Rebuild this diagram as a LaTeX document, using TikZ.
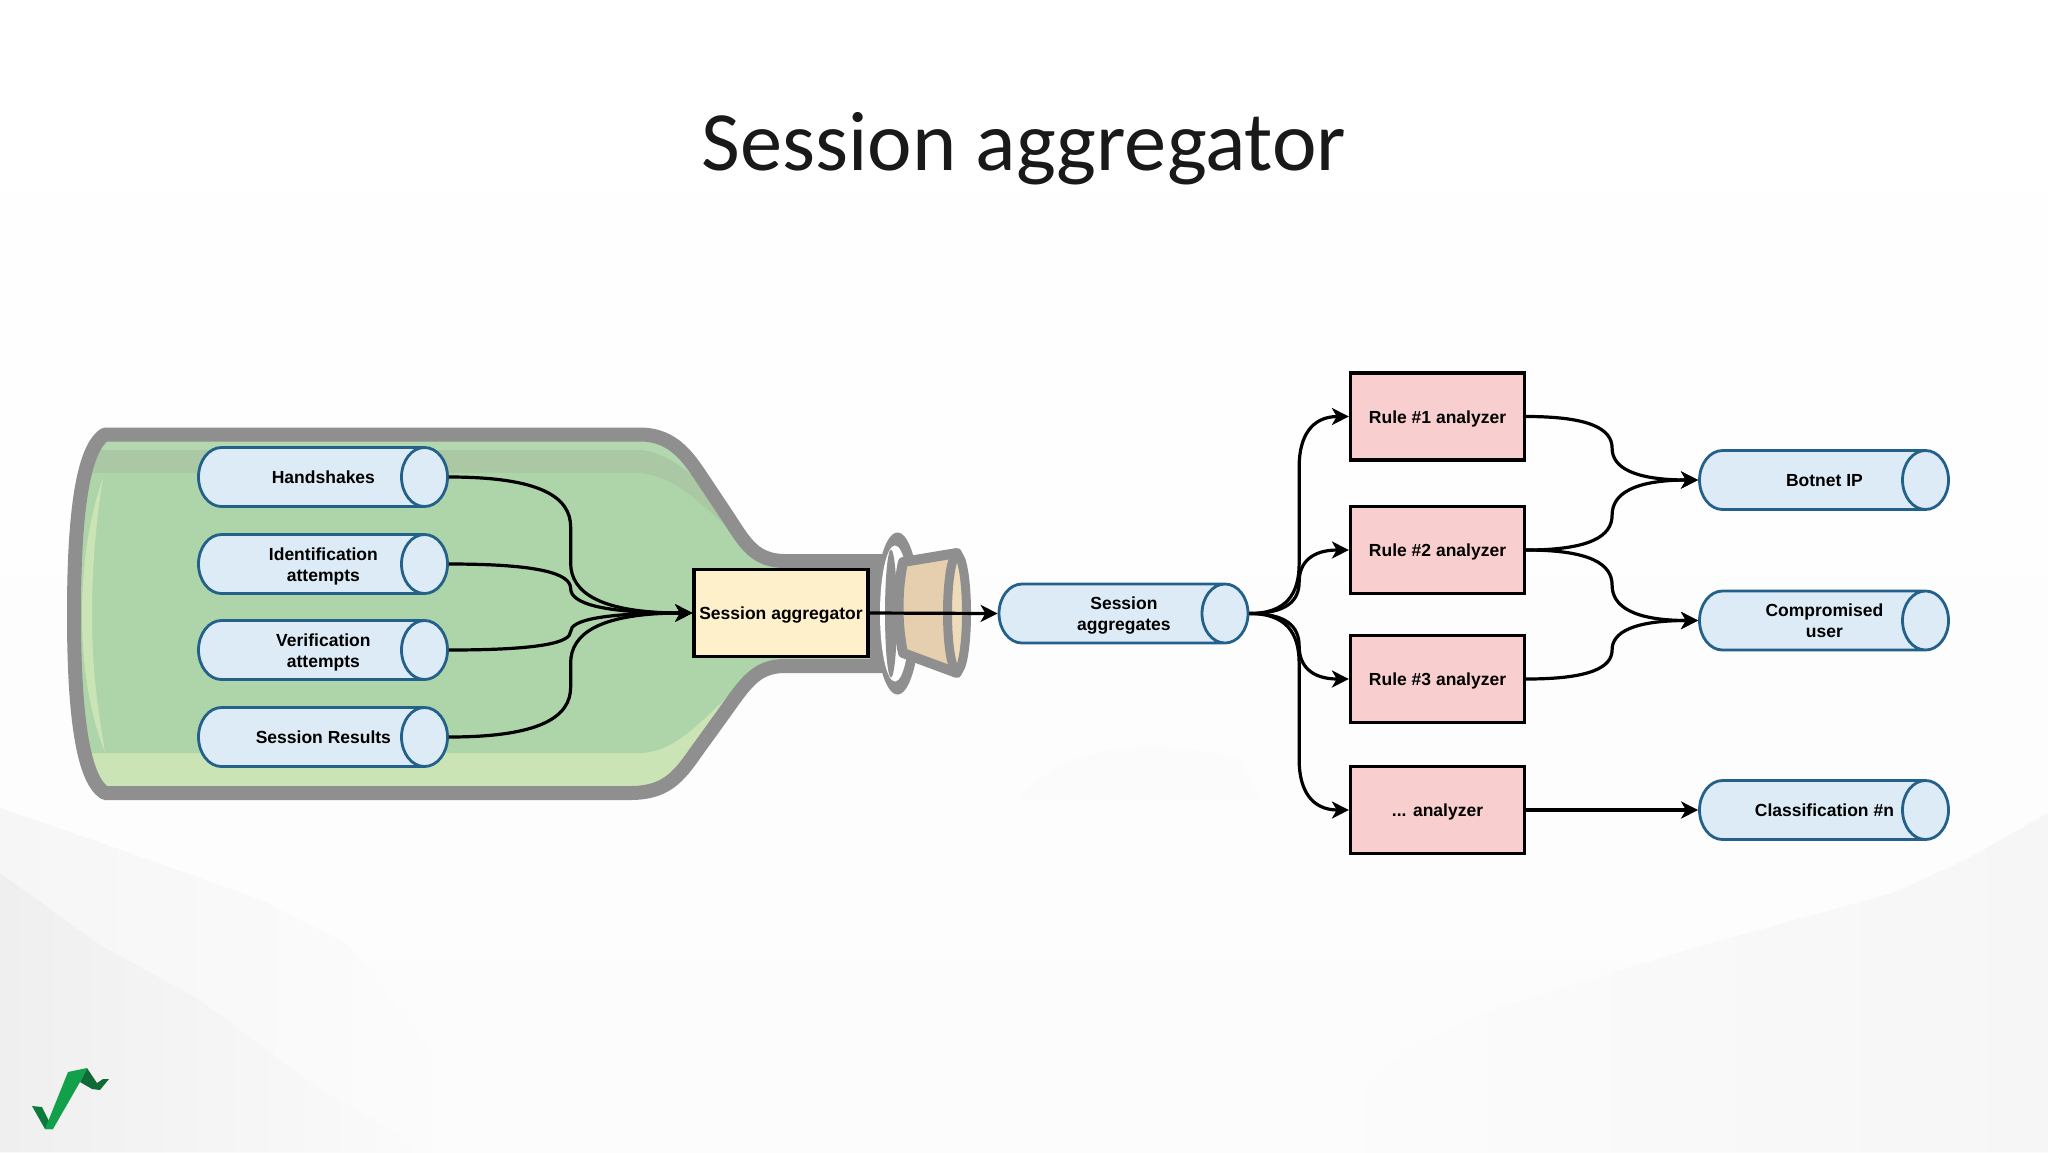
\documentclass[tikz,border=0pt]{standalone}
\usepackage{fontspec}
\setmainfont{Carlito}
\setsansfont{Liberation Sans}
\usetikzlibrary{arrows.meta,calc,shapes.geometric}

\definecolor{bottlegrey}{HTML}{8F8F8F}
\definecolor{bottlelight}{HTML}{CBE4B5}
\definecolor{bottleedge}{HTML}{B3D7AE}
\definecolor{bottleband}{HTML}{A9C8A3}
\definecolor{bottlemain}{HTML}{AED4A9}
\definecolor{corkfill}{HTML}{E5CFAE}
\definecolor{corklight}{HTML}{EDDBB9}
\definecolor{streamfill}{HTML}{DCEBF5}
\definecolor{streamline}{HTML}{23608A}
\definecolor{rulefill}{HTML}{F9CECE}
\definecolor{aggfill}{HTML}{FFF0CC}
\definecolor{backlow}{HTML}{FCFCFD}
\definecolor{hillpale}{HTML}{FBFBFB}
\definecolor{hillmid}{HTML}{F6F6F7}
\definecolor{hilldark}{HTML}{EFEFF0}
\definecolor{logolight}{HTML}{12A04A}
\definecolor{logodark}{HTML}{0B7A3A}
\definecolor{logotail}{HTML}{0E6B36}

\newcommand{\streamtext}[1]{\smash{\kern6.3pt\raisebox{-3.6pt}{\makebox[0pt]{\begin{tabular}{@{}c@{}}#1\end{tabular}}}\kern-6.3pt}}

\tikzset{
  nodetext/.style={font=\sffamily\bfseries\fontsize{8.75}{10.5}\selectfont, align=center},
  stream/.style={nodetext, cylinder, shape border rotate=0, aspect=2.875, draw=streamline,
    fill=streamfill, line width=1.4pt, minimum height=124.5pt, minimum width=29.5pt,
    inner sep=0pt, text height=4pt, text depth=4pt, anchor=shape center},
  box/.style={nodetext, draw=black, line width=1.6pt, inner sep=0pt, text height=6.5pt, text depth=0pt,
    minimum width=87pt, minimum height=43.5pt},
  flow/.style={line width=1.6pt, ->, >={Stealth[length=8.5pt,width=8.5pt,inset=2.4pt]}},
  curvedflow/.style={flow, to path={
    let \p1=(\tikztostart), \p2=(\tikztotarget),
        \n1={0.5*(\x1+\x2)}, \n2={sign(\y2-\y1)*min(abs(\y2-\y1)/2,25)} in
    .. controls ({\x1+0.75*(\n1-\x1)},\y1) and (\n1,{\y1+0.4*\n2}) .. (\n1,{\y1+\n2})
    -- (\n1,{\y2-\n2})
    .. controls (\n1,{\y2-0.4*\n2}) and ({\x2-0.75*(\x2-\n1)},\y2) .. (\tikztotarget)}},
  bottle/.style={insert path={
    (74,614) .. controls (74,530) and (80,450) .. (105,434.5) -- (640,434.5)
    .. controls (675,434.5) and (690,460) .. (704,481) -- (730,520)
    .. controls (745,543) and (755,561) .. (785,561) -- (885,561) -- (885,666) -- (785,666)
    .. controls (755,666) and (745,684) .. (722,716) -- (696,752)
    .. controls (678,778) and (665,793) .. (630,793) -- (105,793)
    .. controls (80,778) and (74,698) .. (74,614) -- cycle}},
}

\begin{document}
\begin{tikzpicture}[x=0.5pt, y=-0.5pt]
  \useasboundingbox (0, 0) rectangle (2048, 1152);

  % backdrop
  \shade [top color=white, bottom color=backlow] (0, 0) rectangle (2048, 1152);
  \shade [left color=hillmid, right color=backlow] (0, 808) -- (130, 853) -- (261, 900) -- (346, 943) -- (431, 1050)
    -- (470, 1152) -- (0, 1152) -- cycle;
  \shade [left color=hilldark, right color=hillpale] (0, 873) -- (100, 945) -- (200, 1000)
    -- (320, 1090) -- (430, 1152) -- (0, 1152) -- cycle;
  \shade [left color=backlow, right color=hillmid] (2048, 813) -- (1965, 860) -- (1893, 893) -- (1697, 947) -- (1481, 1013)
    -- (1390, 1063) -- (1300, 1152) -- (2048, 1152) -- cycle;
  \fill [hillpale] (1020, 800) .. controls (1060, 745) and (1150, 735) .. (1240, 760)
    -- (1260, 800) -- cycle;

  % bottle
  \begin{scope}
    \clip [bottle];
    \fill [bottlelight] (0, 400) rectangle (900, 820);
    \fill [bottleedge] (0, 400) -- (900, 400) -- (900, 600) -- (770, 560)
      .. controls (720, 520) and (700, 470) .. (640, 470) -- (0, 470) -- cycle;
    \fill [bottleband] (90, 450) -- (640, 450) .. controls (690, 455) and (720, 510) .. (775, 563)
      -- (640, 500) -- (90, 473) -- cycle;
    \fill [bottlemain] (60, 473) -- (640, 473) .. controls (690, 478) and (720, 530) .. (775, 566)
      -- (900, 566) -- (900, 660) -- (775, 660) .. controls (730, 680) and (690, 753) .. (640, 753)
      -- (90, 753) -- (60, 720) -- cycle;
    \fill [bottlelight] (103, 478) .. controls (88, 520) and (82, 570) .. (82, 614)
      .. controls (82, 660) and (88, 710) .. (105, 752)
      .. controls (96, 700) and (92, 660) .. (92, 614)
      .. controls (92, 570) and (96, 520) .. (103, 478) -- cycle;
  \end{scope}
  \draw [bottlegrey, line width=7pt, line join=round] [bottle];
  \fill [bottlegrey] (870, 557) rectangle (890, 670);

  % neck ring and cork
  \fill [bottlegrey] (897.5, 613.5) ellipse [x radius=22.5, y radius=81];
  \fill [white] (895, 613.5) ellipse [x radius=15, y radius=68];
  \fill [bottlegrey] (891, 613.5) ellipse [x radius=6, y radius=64];
  \draw [bottlegrey, fill=corkfill, line width=5pt, line join=round] (903, 562) -- (957, 553)
    .. controls (964, 580) and (964, 646) .. (957, 673) -- (903, 653)
    .. controls (897, 625) and (897, 590) .. (903, 562) -- cycle;
  \draw [bottlegrey, fill=corklight, line width=4.5pt] (957, 613) ellipse [x radius=9.5, y radius=58];

  % sources
  \node [stream] (handshakes) at (323, 477) {\streamtext{Handshakes}};
  \node [stream] (identification) at (323, 564) {\streamtext{Identification\\attempts}};
  \node [stream] (verification) at (323, 650) {\streamtext{Verification\\attempts}};
  \node [stream] (results) at (323, 737) {\streamtext{Session Results}};

  \node [box, fill=aggfill] (aggregator) at (781, 613) {Session aggregator};
  \node [stream] (aggregates) at (1123.5, 613.5) {\streamtext{Session\\aggregates}};

  % analyzers
  \node [box, fill=rulefill] (rulea) at (1437.5, 416.5) {Rule \#1 analyzer};
  \node [box, fill=rulefill] (ruleb) at (1437.5, 550) {Rule \#2 analyzer};
  \node [box, fill=rulefill] (rulec) at (1437.5, 679) {Rule \#3 analyzer};
  \node [box, fill=rulefill] (rulen) at (1437.5, 810) {... analyzer};

  % outcomes
  \node [stream] (botnet) at (1824, 480) {\streamtext{Botnet IP}};
  \node [stream] (compromised) at (1824, 620.5) {\streamtext{Compromised\\user}};
  \node [stream] (classification) at (1824, 810) {\streamtext{Classification \#n}};

  \draw [curvedflow] (handshakes.east) to (aggregator.west);
  \draw [curvedflow] (identification.east) to (aggregator.west);
  \draw [curvedflow] (verification.east) to (aggregator.west);
  \draw [curvedflow] (results.east) to (aggregator.west);
  \draw [flow] (aggregator.east) -- (aggregates.west);

  \draw [curvedflow] (aggregates.east) to (rulea.west);
  \draw [curvedflow] (aggregates.east) to (ruleb.west);
  \draw [curvedflow] (aggregates.east) to (rulec.west);
  \draw [curvedflow] (aggregates.east) to (rulen.west);

  \draw [curvedflow] (rulea.east) to (botnet.west);
  \draw [curvedflow] (ruleb.east) to (botnet.west);
  \draw [curvedflow] (ruleb.east) to (compromised.west);
  \draw [curvedflow] (rulec.east) to (compromised.west);
  \draw [flow] (rulen.east) -- (classification.west);

  % title
  \node [font=\fontsize{42.2}{50}\selectfont, text=black!90] (title) at (1024, 149) {Session aggregator};

  % logo
  \fill [logodark] (32, 1106) -- (42, 1107) -- (53, 1129) -- (45, 1129) -- cycle;
  \fill [logotail] (87, 1068) -- (80, 1082) -- (92, 1089) -- (100, 1090)
    -- (109, 1079) -- (103, 1079) -- (97, 1083) -- cycle;
  \fill [logolight] (45, 1129) -- (68, 1072) -- (87, 1068) -- (80, 1082) -- (53, 1129) -- cycle;
\end{tikzpicture}
\end{document}
